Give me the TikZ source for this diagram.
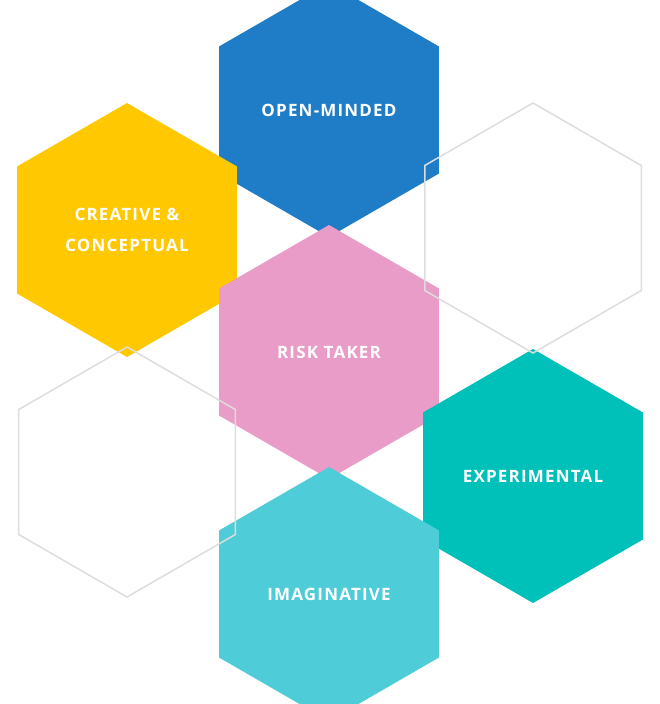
\documentclass[tikz,border=0pt]{standalone}
\usepackage{fontspec}
\setmainfont{Open Sans}
\usetikzlibrary{shapes.geometric}
\definecolor{hexblue}{HTML}{1F7DC8}
\definecolor{hexyellow}{HTML}{FFC800}
\definecolor{hexpink}{HTML}{EA9CC9}
\definecolor{hexteal}{HTML}{00C0BA}
\definecolor{hexcyan}{HTML}{4ECCD8}
\definecolor{hexline}{HTML}{DDDDDD}
\tikzset{
  hexcell/.style={regular polygon, regular polygon sides=6, shape border rotate=30,
    minimum size=254pt, inner sep=0pt, draw=none, text=white, align=center,
    font=\fontsize{17}{31}\selectfont\bfseries\addfontfeatures{LetterSpace=7}},
  hexempty/.style={hexcell, minimum size=250pt, draw=hexline, line width=1.5pt}
}
\begin{document}
\begin{tikzpicture}[x=1pt,y=-1pt]
    \useasboundingbox (0,0) rectangle (660,704);
    % filled cells
    \node[hexcell, fill=hexblue] (open) at (329,110) {OPEN-MINDED};
    \node[hexcell, fill=hexyellow] (creative) at (127,230) {CREATIVE \&\\CONCEPTUAL};
    \node[hexcell, fill=hexpink] (risk) at (329,352) {RISK TAKER};
    \node[hexcell, fill=hexteal] (experimental) at (533,476) {EXPERIMENTAL};
    \node[hexcell, fill=hexcyan] (imaginative) at (329,594) {IMAGINATIVE};
    % empty cells
    \node[hexempty] (emptyright) at (533,228) {};
    \node[hexempty] (emptyleft) at (127,472) {};
\end{tikzpicture}
\end{document}
